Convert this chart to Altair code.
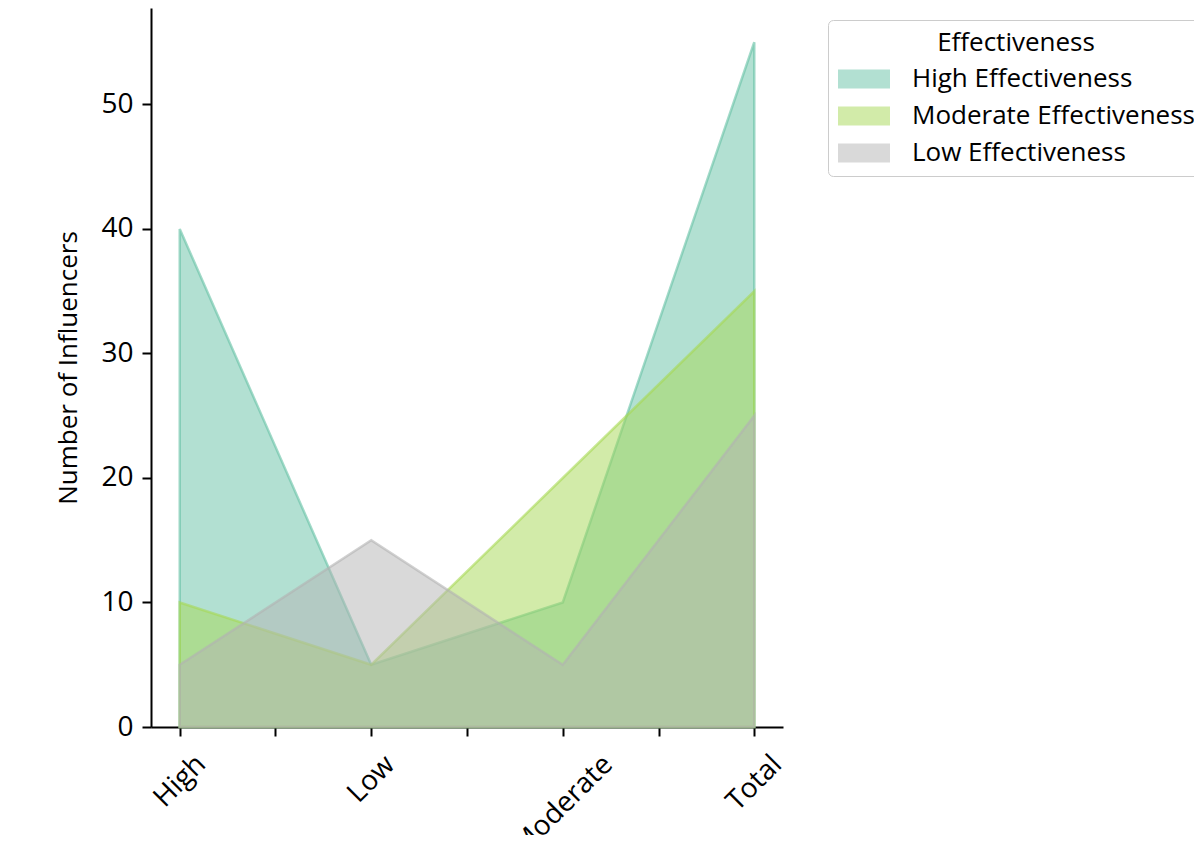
import altair as alt
import pandas as pd

# ---- data ----
categories = ["High", "Low", "Moderate", "Total"]
series_names = ["High Effectiveness", "Moderate Effectiveness", "Low Effectiveness"]
high_eff = [40, 5, 10, 55]
moderate_eff = [10, 5, 20, 35]
low_eff = [5, 15, 5, 25]
series_values = [high_eff, moderate_eff, low_eff]
colors = ["#66c2a5", "#a6d854", "#b3b3b3"]
x_ticks = [0, 0.5, 1, 1.5, 2, 2.5, 3]
y_ticks = [0, 10, 20, 30, 40, 50]
x_label_pad = [45, 43, 69, 47]   # per-label offset (rotated labels centred under tick)

FONT = "Open Sans"

rows = []
for name, vals in zip(series_names, series_values):
    for i, (c, v) in enumerate(zip(categories, vals)):
        rows.append({"Category": c, "idx": i, "Effectiveness": name, "Count": v})
df = pd.DataFrame(rows)

label_expr = "[" + ",".join(f"'{c}'" for c in categories) + "][datum.value] || ''"
pad_expr = "[" + ",".join(str(p) for p in x_label_pad) + "][datum.value] || 0"

x_enc = alt.X(
    "idx:Q",
    scale=alt.Scale(domain=[-0.15, 3.15], nice=False, zero=False),
    axis=alt.Axis(
        title=None, values=x_ticks, labelExpr=label_expr,
        labelAngle=315, labelAlign="center", labelBaseline="middle",
        labelPadding={"expr": pad_expr}, labelFlush=False, labelOverlap=False,
        labelFont=FONT, labelFontSize=28, labelColor="black",
        tickSize=9, tickWidth=2, tickColor="black",
        domainColor="black", domainWidth=2, grid=False,
    ),
)
y_enc = alt.Y(
    "Count:Q",
    scale=alt.Scale(domain=[0, 57.75], nice=False),
    axis=alt.Axis(
        title="Number of Influencers", values=y_ticks,
        titleFont=FONT, titleFontSize=26, titleFontWeight="normal", titleColor="black",
        titlePadding=19,
        labelFont=FONT, labelFontSize=28, labelColor="black", labelPadding=9,
        tickSize=9, tickWidth=2, tickColor="black",
        domainColor="black", domainWidth=2, grid=False,
    ),
)

legend = alt.Legend(
    title="Effectiveness", orient="none", legendX=677, legendY=12,
    titleFont=FONT, titleFontSize=26, titleFontWeight="normal", titleColor="black",
    titleAnchor="middle", titlePadding=10, titleLimit=0,
    labelFont=FONT, labelFontSize=26, labelColor="black", labelOffset=48,
    labelLimit=0,
    symbolType="M-1,-0.73L3,-0.73L3,0.73L-1,0.73Z", symbolSize=676,
    symbolOpacity=0.5, symbolStrokeWidth=0,
    rowPadding=11, padding=10,
    strokeColor="#cccccc", fillColor="white", cornerRadius=5,
)

color_enc = alt.Color(
    "Effectiveness:N",
    scale=alt.Scale(domain=series_names, range=colors),
    legend=legend,
)

layers = []
for name, col in zip(series_names, colors):
    layers.append(
        alt.Chart(df)
        .transform_filter(alt.datum.Effectiveness == name)
        .mark_area(fillOpacity=0.5, stroke=col, strokeOpacity=0.6, strokeWidth=2.5)
        .encode(x=x_enc, y=y_enc, color=color_enc)
    )

chart = (
    alt.layer(*layers)
    .properties(
        width=632, height=719,
        autosize=alt.AutoSizeParams(type="none"),
        padding={"left": 143, "top": 0, "right": 411, "bottom": 108},
    )
    .configure(background="white")
    .configure_view(strokeWidth=0, stroke="transparent")
)

chart.save("out.html", embed_options={"renderer": "svg", "actions": False})
